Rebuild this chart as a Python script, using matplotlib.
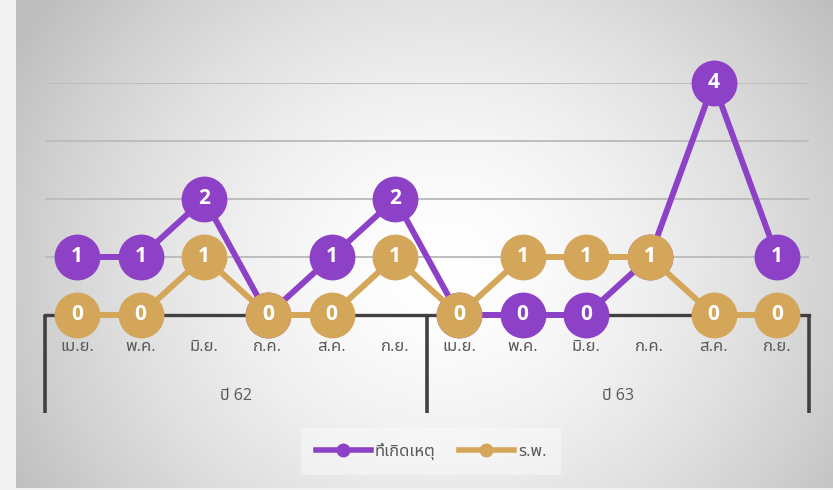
import numpy as np
import matplotlib
matplotlib.use("Agg")
import matplotlib.pyplot as plt
from matplotlib.lines import Line2D

plt.rcParams['font.family'] = ['Open Sans', 'Noto Sans Thai', 'DejaVu Sans']

months = ["เม.ย.", "พ.ค.", "มิ.ย.", "ก.ค.", "ส.ค.", "ก.ย."] * 2
years = ["ปี 62", "ปี 63"]
scene = [1, 1, 2, 0, 1, 2, 0, 0, 0, 1, 4, 1]      # ที่เกิดเหตุ
hospital = [0, 0, 1, 0, 0, 1, 0, 1, 1, 1, 0, 0]   # ร.พ.
series_names = ["ที่เกิดเหตุ", "ร.พ."]

PURPLE = "#8C41C6"
GOLD = "#D4A65A"
TXT = "#595959"

W, H = 833, 490
fig = plt.figure(figsize=(W / 100, H / 100), dpi=100)
fig.patch.set_facecolor("#f2f2f2")

# radial grey background
bg = fig.add_axes([16 / W, 2 / H, 1 - 16 / W, 1 - 2 / H])
yy, xx = np.mgrid[0:H, 16:W]
r = np.sqrt(((xx - 440) / 470.0) ** 2 + ((yy - 270) / 420.0) ** 2)
g = np.clip(255 - 60 * r ** 1.6, 190, 255) / 255.0
bg.imshow(np.dstack([g, g, g]), aspect="auto", interpolation="bilinear")
bg.axis("off")

# plot area in pixels: x 45..809, y=0 at 315, y=4 at 83
ax = fig.add_axes([45 / W, (H - 315) / H, (809 - 45) / W, (315 - 83) / H])
ax.patch.set_alpha(0)
n = len(months)
x = np.arange(n)
ax.set_xlim(-0.5, n - 0.5)
ax.set_ylim(0, 4)

for v in [1, 2, 3, 4]:
    ax.axhline(v, color="#bdbdbd", lw=1.4, zorder=1)

for sp in ["top", "right", "left"]:
    ax.spines[sp].set_visible(False)
ax.spines["bottom"].set_color("#404040")
ax.spines["bottom"].set_linewidth(2.4)
ax.set_yticks([])
ax.set_xticks(x)
ax.set_xticklabels(months, color=TXT, fontsize=12)
ax.tick_params(axis="x", length=0, pad=17)

# group separators and year labels
low = -(413 - 315) / 58.0
for b in [-0.5, 5.5, 11.5]:
    ax.plot([b, b], [0, low], color="#404040", lw=2.6, clip_on=False,
            solid_capstyle="butt", zorder=2)
for i, yr in enumerate(years):
    ax.text(2.5 + 6 * i, -(396 - 315) / 58.0, yr, ha="center", va="center",
            color=TXT, fontsize=11.5)

for vals, col in [(scene, PURPLE), (hospital, GOLD)]:
    ax.plot(x, vals, color=col, lw=4.3, marker="o", markersize=33,
            markeredgewidth=0, clip_on=False, zorder=3)
    for xi, v in zip(x, vals):
        ax.text(xi, v, str(v), ha="center", va="center", color="white",
                fontsize=15, fontweight="bold", zorder=5)

handles = [Line2D([0], [0], color=c, lw=4, marker="o", markersize=9)
           for c in [PURPLE, GOLD]]
leg = fig.legend(handles, series_names, loc="center",
                 bbox_to_anchor=(431 / W, 1 - 451 / H), ncol=2, frameon=True,
                 fontsize=12, handlelength=3.3, handletextpad=0.25,
                 columnspacing=1.4, borderpad=0.9)
leg.get_frame().set_facecolor("white")
leg.get_frame().set_alpha(0.4)
leg.get_frame().set_edgecolor("none")
leg.get_frame().set_boxstyle("square", pad=0)
for t in leg.get_texts():
    t.set_color(TXT)

fig.savefig("out.png", dpi=100)
